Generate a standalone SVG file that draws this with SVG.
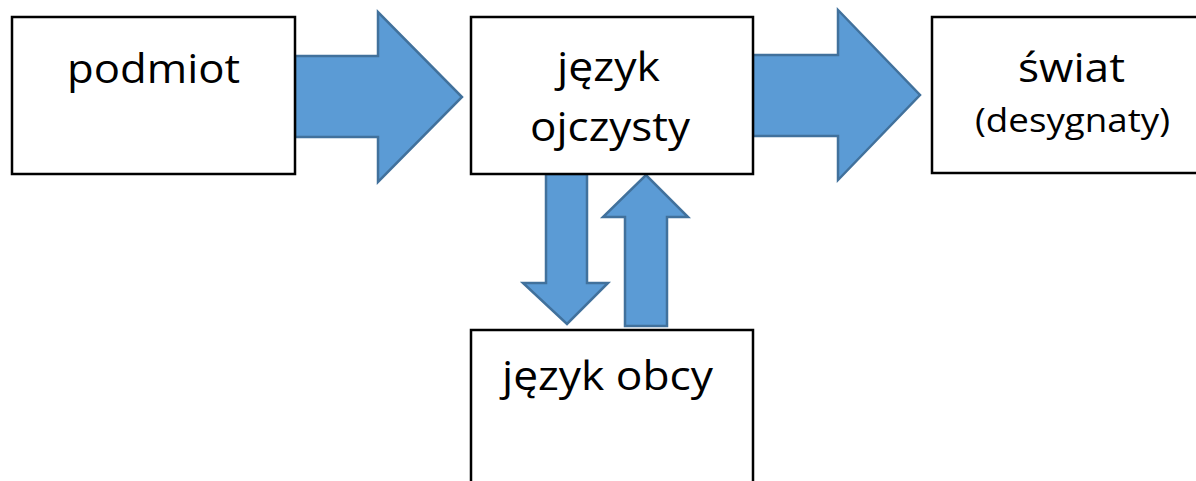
<svg xmlns="http://www.w3.org/2000/svg" width="1196" height="481" viewBox="0 0 1196 481">
<style>
.box{fill:#fff;stroke:#000;stroke-width:2.5}
.arr{fill:#5b9bd5;stroke:#41719c;stroke-width:2.5;stroke-linejoin:miter}
.t{font-family:"Open Sans","Liberation Sans",sans-serif;font-size:40px;fill:#000}
.s{font-size:32px}
</style>
<rect width="1196" height="481" fill="#fff"/>
<g id="connectors">
<polygon class="arr" points="295,56 378,56 378,12 462,97 378,182 378,137 295,137"/>
<polygon class="arr" points="753,55 838,55 838,10 920,95 838,180 838,136 753,136"/>
<polygon class="arr" points="546,174 587,174 587,283 608,283 567,324 523,283 546,283"/>
<polygon class="arr" points="625,326 667,326 667,217 688,217 646,175 603,217 625,217"/>
</g>
<g id="podmiot">
<rect class="box" x="12" y="17" width="283" height="157"/>
<text class="t" x="67" y="83" textLength="173" lengthAdjust="spacingAndGlyphs">podmiot</text>
</g>
<g id="jezyk-ojczysty">
<rect class="box" x="471" y="17" width="282" height="157"/>
<text class="t" x="557" y="81" textLength="103" lengthAdjust="spacingAndGlyphs">język</text>
<text class="t" x="530" y="141" textLength="160" lengthAdjust="spacingAndGlyphs">ojczysty</text>
</g>
<g id="swiat">
<rect class="box" x="932" y="17" width="270" height="156"/>
<text class="t" x="1018" y="82" textLength="107" lengthAdjust="spacingAndGlyphs">świat</text>
<text class="t s" x="975" y="132" textLength="195" lengthAdjust="spacingAndGlyphs">(desygnaty)</text>
</g>
<g id="jezyk-obcy">
<path class="box" d="M471,490 V330 H753 V490"/>
<text class="t" x="502" y="390" textLength="211" lengthAdjust="spacingAndGlyphs">język obcy</text>
</g>
</svg>
